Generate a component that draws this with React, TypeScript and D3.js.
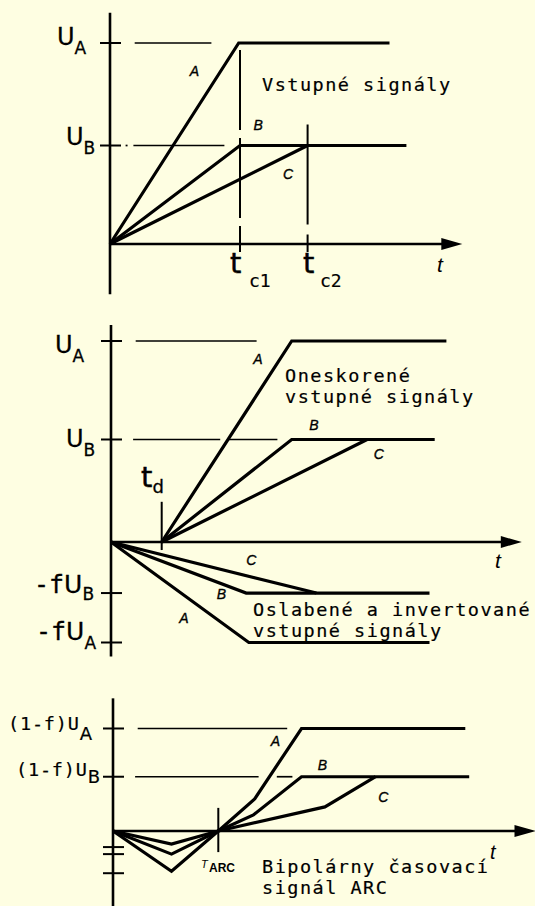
import React from 'react';
import * as d3 from 'd3';

const W = 535;
const H = 906;
const BG = '#FEFEE2';
const INK = '#000';

// ---- Panel 1: input signals (time in units of t_c1, voltage in units of U_A)
const inA: [number, number][] = [[0, 0], [0.99, 1], [2.15, 1]];
const inB: [number, number][] = [[0, 0], [1.0, 0.49], [2.28, 0.49]];
const inC: [number, number][] = [[0, 0], [1.52, 0.49]];
const tc1 = 1.0;
const tc2 = 1.52;
const levelsP1 = [1, 0.49];

// ---- Panel 2: delayed and attenuated/inverted signals
const td = 0.39;
const delA: [number, number][] = [[td, 0], [1.39, 1], [2.58, 1]];
const delB: [number, number][] = [[td, 0], [1.39, 0.51], [2.49, 0.51]];
const delC: [number, number][] = [[td, 0], [1.97, 0.51]];
const attA: [number, number][] = [[0, 0], [1.06, -0.5], [2.45, -0.5]];
const attB: [number, number][] = [[0, 0], [1.04, -0.254], [2.45, -0.254]];
const attC: [number, number][] = [[0, 0], [1.58, -0.254]];
const levelsP2 = [1, 0.51, -0.254, -0.5];

// ---- Panel 3: bipolar ARC timing signal
const tArc = 0.81;
const arcA: [number, number][] = [[0, 0], [0.45, -0.2], [tArc, 0], [1.09, 0.16], [1.45, 0.51], [2.71, 0.51]];
const arcB: [number, number][] = [[0, 0], [0.45, -0.115], [tArc, 0], [1.08, 0.08], [1.45, 0.27], [2.74, 0.27]];
const arcC: [number, number][] = [[0, 0], [0.45, -0.065], [tArc, 0], [1.63, 0.12], [2.02, 0.27]];
const levelsP3 = [0.51, 0.27, -0.08, -0.115, -0.21];

// horizontal guide segments: [level, tStart, tEnd]
const guidesP1: [number, number, number][] = [[1, 0.19, 0.78], [0.49, 0.18, 0.88], [0.49, 0.12, 0.135]];
const guidesP2: [number, number, number][] = [[1, 0.19, 1.12], [0.51, 0.17, 0.84], [0.51, 0.9, 1.28]];
const guidesP3: [number, number, number][] = [[0.51, 0.19, 1.34], [0.27, 0.17, 1.12], [0.27, 1.26, 1.38]];

// curve name labels: [name, t, v]
const namesP1: [string, number, number][] = [['A', 0.65, 0.86], ['B', 1.14, 0.59], ['C', 1.37, 0.35]];
const namesP2: [string, number, number][] = [
  ['A', 1.13, 0.91], ['B', 1.56, 0.58], ['C', 2.06, 0.44],
  ['C', 1.08, -0.09], ['B', 0.85, -0.26], ['A', 0.56, -0.38],
];
const namesP3: [string, number, number][] = [['A', 1.25, 0.45], ['B', 1.61, 0.33], ['C', 2.08, 0.17]];

// scales (one time unit = t_c1, one voltage unit = U_A)
const x1 = d3.scaleLinear().domain([0, 1]).range([110, 240]);
const y1 = d3.scaleLinear().domain([0, 1]).range([244, 43]);
const x2 = d3.scaleLinear().domain([0, 1]).range([111, 241]);
const y2 = d3.scaleLinear().domain([0, 1]).range([542, 341]);
const x3 = d3.scaleLinear().domain([0, 1]).range([113, 243]);
const y3 = d3.scaleLinear().domain([0, 1]).range([831, 630]);

const MONO = '"DejaVu Sans Mono", monospace';
const SANS = '"DejaVu Sans", sans-serif';
const ITAL = '"Liberation Sans", Arial, sans-serif';

type Scale = d3.ScaleLinear<number, number>;

function Axes({ xs, ys, tEnd, vTop, vBottom, levels }: {
  xs: Scale; ys: Scale; tEnd: number; vTop: number; vBottom: number; levels: number[];
}) {
  const ox = xs(0);
  const oy = ys(0);
  const tip = xs(tEnd);
  return (
    <g>
      <line x1={ox} x2={ox} y1={ys(vTop)} y2={ys(vBottom)} stroke={INK} strokeWidth={2.6} />
      <line x1={ox} x2={tip - 10} y1={oy} y2={oy} stroke={INK} strokeWidth={2.6} />
      <polygon points={`${tip - 21},${oy - 6} ${tip},${oy} ${tip - 21},${oy + 6}`} fill={INK} />
      {levels.map((v, i) => (
        <line key={i} x1={ox - 10} x2={ox + 11} y1={ys(v)} y2={ys(v)} stroke={INK} strokeWidth={2} />
      ))}
    </g>
  );
}

function Curves({ xs, ys, series }: { xs: Scale; ys: Scale; series: [number, number][][] }) {
  const line = d3.line<[number, number]>().x((d) => xs(d[0])).y((d) => ys(d[1]));
  return (
    <g fill="none" stroke={INK} strokeWidth={3.2} strokeLinejoin="miter" strokeLinecap="butt">
      {series.map((s, i) => <path key={i} d={line(s) || ''} />)}
    </g>
  );
}

function Guides({ xs, ys, guides }: { xs: Scale; ys: Scale; guides: [number, number, number][] }) {
  return (
    <g stroke={INK} strokeWidth={1.7}>
      {guides.map(([v, a, b], i) => (
        <line key={i} x1={xs(a)} x2={xs(b)} y1={ys(v)} y2={ys(v)} />
      ))}
    </g>
  );
}

function Names({ xs, ys, names }: { xs: Scale; ys: Scale; names: [string, number, number][] }) {
  return (
    <g fontFamily={ITAL} fontStyle="italic" fontSize={14} textAnchor="middle" stroke={INK} strokeWidth={0.35}>
      {names.map(([n, t, v], i) => (
        <text key={i} x={xs(t)} y={ys(v) + 5}>{n}</text>
      ))}
    </g>
  );
}

function Sym({ x, y, main, sub, size = 24, subSize = 17, dy = 9, family = SANS, subFamily = SANS }: {
  x: number; y: number; main: string; sub: string; size?: number; subSize?: number; dy?: number;
  family?: string; subFamily?: string;
}) {
  return (
    <text x={x} y={y} fontFamily={family} fontSize={size} stroke={INK} strokeWidth={0.3}>
      {main}
      <tspan fontFamily={subFamily} fontSize={subSize} dy={dy}>{sub}</tspan>
    </text>
  );
}

function Caption({ x, y, lines }: { x: number; y: number; lines: string[] }) {
  return (
    <text x={x} y={y} fontFamily={MONO} fontSize={18.5} letterSpacing={1.5} stroke={INK} strokeWidth={0.2}>
      {lines.map((l, i) => (
        <tspan key={i} x={x} dy={i === 0 ? 0 : 20.5}>{l}</tspan>
      ))}
    </text>
  );
}

export default function App() {
  return (
    <svg width={W} height={H} viewBox={`0 0 ${W} ${H}`}
      style={{ position: 'fixed', left: 0, top: 0, display: 'block' }}>
      <rect width={W} height={H} fill={BG} />

      {/* Panel 1 */}
      <Guides xs={x1} ys={y1} guides={guidesP1} />
      <g stroke={INK} strokeWidth={2}>
        <line x1={x1(tc1)} x2={x1(tc1)} y1={y1(0.965)} y2={y1(-0.04)} strokeDasharray="80 8" />
        <line x1={x1(tc2)} x2={x1(tc2)} y1={y1(0.594)} y2={y1(-0.04)} strokeDasharray="100 10" />
      </g>
      <Axes xs={x1} ys={y1} tEnd={2.71} vTop={1.15} vBottom={-0.25} levels={levelsP1} />
      <Curves xs={x1} ys={y1} series={[inA, inB, inC]} />
      <Names xs={x1} ys={y1} names={namesP1} />
      <Sym x={57} y={45} main="U" sub="A" />
      <Sym x={66} y={145} main="U" sub="B" />
      <text x={230} y={273} fontFamily={SANS} fontSize={29} stroke={INK} strokeWidth={0.5}>t</text>
      <text x={249} y={287} fontFamily={MONO} fontSize={18} stroke={INK} strokeWidth={0.2}>c1</text>
      <text x={303} y={273} fontFamily={SANS} fontSize={29} stroke={INK} strokeWidth={0.5}>t</text>
      <text x={320} y={287} fontFamily={MONO} fontSize={18} stroke={INK} strokeWidth={0.2}>c2</text>
      <text x={437} y={272} fontFamily={ITAL} fontStyle="italic" fontSize={21}>t</text>
      <Caption x={262} y={91} lines={['Vstupné signály']} />

      {/* Panel 2 */}
      <Guides xs={x2} ys={y2} guides={guidesP2} />
      <line x1={x2(td)} x2={x2(td)} y1={y2(0.2)} y2={y2(-0.04)} stroke={INK} strokeWidth={2} />
      <Axes xs={x2} ys={y2} tEnd={3.16} vTop={1.08} vBottom={-0.57} levels={levelsP2} />
      <Curves xs={x2} ys={y2} series={[delA, delB, delC, attA, attB, attC]} />
      <Names xs={x2} ys={y2} names={namesP2} />
      <Sym x={55} y={353} main="U" sub="A" />
      <Sym x={66} y={447} main="U" sub="B" />
      <text x={141} y={487} fontFamily={SANS} fontSize={29} stroke={INK} strokeWidth={0.5}>
        t<tspan fontSize={18} dy={6} strokeWidth={0.3}>d</tspan>
      </text>
      <text x={34} y={593} fontFamily={MONO} fontSize={25} stroke={INK} strokeWidth={0.3}>
        -f<tspan fontFamily={SANS}>U</tspan><tspan fontFamily={SANS} fontSize={17} dy={7}>B</tspan>
      </text>
      <text x={36} y={640} fontFamily={MONO} fontSize={25} stroke={INK} strokeWidth={0.3}>
        -f<tspan fontFamily={SANS}>U</tspan><tspan fontFamily={SANS} fontSize={17} dy={9}>A</tspan>
      </text>
      <text x={495} y={568} fontFamily={ITAL} fontStyle="italic" fontSize={21}>t</text>
      <Caption x={285} y={382} lines={['Oneskorené', 'vstupné signály']} />
      <Caption x={253} y={616} lines={['Oslabené a invertované', 'vstupné signály']} />

      {/* Panel 3 */}
      <Guides xs={x3} ys={y3} guides={guidesP3} />
      <line x1={x3(tArc)} x2={x3(tArc)} y1={y3(0.115)} y2={y3(-0.105)} stroke={INK} strokeWidth={2} />
      <Axes xs={x3} ys={y3} tEnd={3.25} vTop={0.66} vBottom={-0.4} levels={levelsP3} />
      <Curves xs={x3} ys={y3} series={[arcA, arcB, arcC]} />
      <Names xs={x3} ys={y3} names={namesP3} />
      <text x={8} y={730} fontFamily={MONO} fontSize={18.5} letterSpacing={0.8} stroke={INK} strokeWidth={0.2}>
        (1-f)U<tspan fontFamily={SANS} fontSize={18} dy={10} letterSpacing={0}>A</tspan>
      </text>
      <text x={16} y={776} fontFamily={MONO} fontSize={18.5} letterSpacing={0.8} stroke={INK} strokeWidth={0.2}>
        (1-f)U<tspan fontFamily={SANS} fontSize={18} dy={7} letterSpacing={0}>B</tspan>
      </text>
      <text x={201} y={868} fontFamily={ITAL} fontStyle="italic" fontSize={11}>T</text>
      <text x={209} y={872} fontFamily={ITAL} fontWeight="bold" fontSize={12}>ARC</text>
      <text x={490} y={859} fontFamily={ITAL} fontStyle="italic" fontSize={20}>t</text>
      <Caption x={262} y={873} lines={['Bipolárny časovací', 'signál ARC']} />
    </svg>
  );
}
